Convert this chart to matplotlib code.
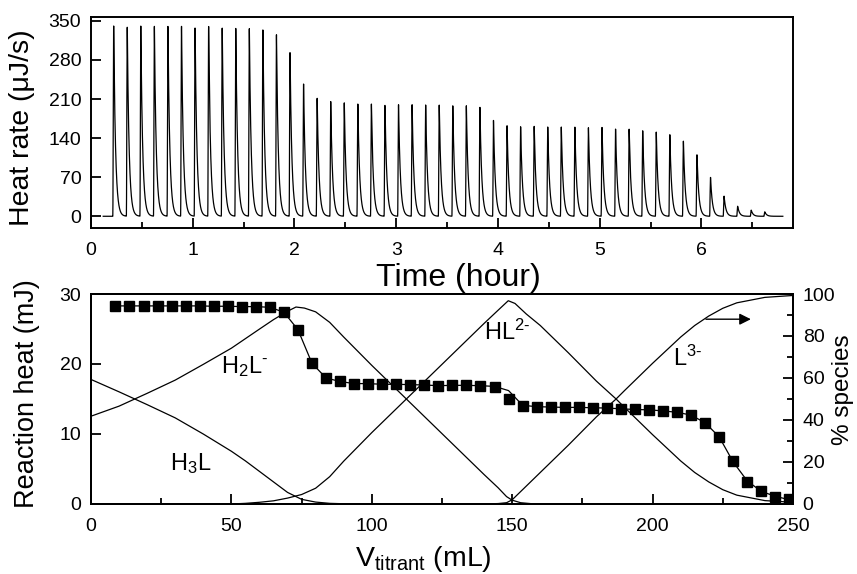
import matplotlib.pyplot as plt
import numpy as np
from matplotlib.ticker import MultipleLocator

plt.rcParams['font.family'] = ['Liberation Sans', 'DejaVu Sans']
plt.rcParams['mathtext.fontset'] = 'custom'
plt.rcParams['mathtext.rm'] = 'Liberation Sans'
plt.rcParams['mathtext.it'] = 'Liberation Sans:italic'
plt.rcParams['mathtext.default'] = 'regular'

# --- thermogram (top): one peak per injection, heights in uJ/s
t_start = 0.12        # h, start of record
t_end = 6.8           # h, end of record
t_first = 0.214       # h, first injection
t_step = 8 / 60       # h between injections
peak_heights = [341, 341, 341, 341, 341, 340, 339, 340, 339, 337, 336, 335,
                325, 295, 237, 212, 206, 203, 202, 201, 200, 200, 200, 200,
                199, 199, 198, 196, 172, 162, 161, 161, 161, 160, 160, 159,
                159, 157, 156, 154, 151, 146, 135, 110, 70, 36, 18, 11, 8]

# --- integrated heats (bottom, left axis)
v_inj = [8.7, 13.7, 18.7, 23.7, 28.7, 33.7, 38.7, 43.7, 48.7, 53.7, 58.7, 63.7,
         68.7, 73.7, 78.7, 83.7, 88.7, 93.7, 98.7, 103.7, 108.7, 113.7, 118.7,
         123.7, 128.7, 133.7, 138.7, 143.7, 148.7, 153.7, 158.7, 163.7, 168.7,
         173.7, 178.7, 183.7, 188.7, 193.7, 198.7, 203.7, 208.7, 213.7, 218.7,
         223.7, 228.7, 233.7, 238.7, 243.7, 248.7]
q_exp = [28.3, 28.3, 28.3, 28.3, 28.3, 28.3, 28.3, 28.25, 28.25, 28.2, 28.2, 28.1,
         27.4, 24.9, 20.1, 18.0, 17.5, 17.2, 17.2, 17.1, 17.1, 17.05, 17.0,
         16.9, 16.95, 16.95, 16.9, 16.7, 15.0, 14.0, 13.9, 13.85, 13.8,
         13.8, 13.75, 13.7, 13.6, 13.5, 13.45, 13.3, 13.1, 12.7, 11.6,
         9.5, 6.1, 3.2, 1.8, 1.0, 0.76]
q_fit = [28.3, 28.3, 28.3, 28.3, 28.3, 28.3, 28.3, 28.25, 28.25, 28.2, 28.2, 28.1,
         27.4, 24.9, 20.1, 18.0, 17.5, 17.2, 17.2, 17.1, 17.1, 17.05, 17.0,
         16.9, 16.95, 16.95, 16.9, 16.8, 16.2, 14.1, 13.9, 13.85, 13.8,
         13.8, 13.75, 13.7, 13.6, 13.5, 13.45, 13.3, 13.1, 12.7, 11.6,
         9.6, 6.0, 3.3, 1.8, 1.1, 0.6]

# --- species distribution (bottom, right axis, %)
v_h3l = [0, 10, 20, 30, 40, 50, 55, 60, 65, 70, 75, 80, 85, 90, 95]
p_h3l = [59.3, 53.4, 47.3, 41.0, 33.3, 25.1, 20.5, 15.5, 10.5, 5.5, 2.2, 0.9, 0.3, 0.1, 0]
v_h2l = [0, 10, 20, 30, 40, 50, 60, 65, 70, 73, 76, 80, 85, 90, 100, 110, 120,
         130, 140, 145, 148, 150, 153, 158]
p_h2l = [41.8, 46.6, 52.7, 59.0, 66.5, 74.2, 83.3, 87.8, 91.8, 93.8, 93.3, 91.5,
         86.5, 79.5, 66.0, 53.0, 40.0, 27.0, 14.0, 7.7, 3.5, 1.8, 0.6, 0]
v_hl2 = [50, 55, 60, 65, 70, 75, 80, 85, 90, 100, 110, 120, 130, 140, 145, 148.6,
         151, 155, 160, 170, 180, 187, 190, 200, 210, 215, 220, 225, 230, 240, 250]
p_hl2 = [0, 0.3, 0.8, 1.5, 2.8, 4.5, 7.5, 13.0, 20.4, 34.0, 47.0, 60.0, 73.0, 86.0,
         92.3, 96.8, 95.5, 90.5, 85.0, 72.0, 58.5, 50.0, 46.0, 33.0, 20.5, 15.0,
         10.5, 6.8, 4.2, 1.6, 0.8]
v_l3 = [140, 145, 148, 150, 155, 160, 170, 180, 187, 190, 200, 210, 215, 220,
        225, 230, 240, 250]
p_l3 = [0, 0.2, 0.6, 2.0, 8.5, 15.0, 28.0, 41.5, 50.0, 54.0, 67.0, 79.5, 85.0,
        89.5, 93.2, 95.8, 98.4, 99.3]

species_labels = [r'H$_2$L$^{\text{-}}$', r'H$_3$L', r'HL$^{\text{2-}}$', r'L$^{\text{3-}}$']
label_v = [54.7, 35.6, 148.3, 212.4]
label_q = [18.7, 4.9, 23.5, 19.7]


def thermogram(t):
    y = np.zeros_like(t)
    rise = 0.009
    tau = 0.018
    for i, h in enumerate(peak_heights):
        t0 = t_first + i * t_step
        up = (t >= t0) & (t < t0 + rise)
        y[up] += h * np.sin(0.5 * np.pi * (t[up] - t0) / rise) ** 2
        down = t >= t0 + rise
        y[down] += h * np.exp(-(t[down] - t0 - rise) / tau)
    return y


def style_axis(ax):
    for s in ax.spines.values():
        s.set_linewidth(1.4)
    ax.tick_params(which='both', direction='in', width=1.3, labelsize=14,
                   top=False, right=False)
    ax.tick_params(which='major', length=7)
    ax.tick_params(which='minor', length=4)
    ax.tick_params(axis='x', pad=10)
    ax.tick_params(axis='y', pad=7)


fig = plt.figure(figsize=(8.57, 5.74), dpi=100)
ax1 = fig.add_axes([0.1062, 0.6028, 0.8191, 0.3676])
ax2 = fig.add_axes([0.1062, 0.1220, 0.8191, 0.3658])
ax3 = ax2.twinx()

# top panel
t = np.linspace(t_start, t_end, 10000)
ax1.plot(t, thermogram(t), color='black', linewidth=0.9)
ax1.set_xlim(0, 6.9)
ax1.set_ylim(-21, 357)
ax1.set_yticks([0, 70, 140, 210, 280, 350])
ax1.xaxis.set_major_locator(MultipleLocator(1))
ax1.xaxis.set_minor_locator(MultipleLocator(0.5))
style_axis(ax1)
ax1.set_xlabel('Time (hour)', fontsize=23)
ax1.xaxis.set_label_coords(0.523, -0.166)
ax1.set_ylabel(u'Heat rate (\u03bcJ/s)', fontsize=20.5)
ax1.yaxis.set_label_coords(-0.080, 0.474)

# bottom panel
ax2.plot(v_inj, q_fit, color='black', linewidth=0.9, zorder=3)
ax2.plot(v_inj, q_exp, 's', color='black', markersize=7.2, zorder=4)
ax2.set_xlim(0, 250)
ax2.set_ylim(0, 30)
ax2.xaxis.set_major_locator(MultipleLocator(50))
ax2.xaxis.set_minor_locator(MultipleLocator(25))
ax2.set_yticks([0, 10, 20, 30])
style_axis(ax2)
ax2.set_xlabel(r'V$_{\mathrm{titrant}}$ (mL)', fontsize=20.5)
ax2.xaxis.set_label_coords(0.473, -0.19)
ax2.set_ylabel('Reaction heat (mJ)', fontsize=19.5)
ax2.yaxis.set_label_coords(-0.0726, 0.524)

for v, p in [(v_h3l, p_h3l), (v_h2l, p_h2l), (v_hl2, p_hl2), (v_l3, p_l3)]:
    ax3.plot(v, p, color='black', linewidth=0.9)
ax3.set_ylim(0, 100)
ax3.yaxis.set_major_locator(MultipleLocator(20))
ax3.yaxis.set_minor_locator(MultipleLocator(10))
for s in ax3.spines.values():
    s.set_linewidth(1.4)
ax3.tick_params(which='both', direction='in', width=1.3, labelsize=14,
                left=False, right=True, pad=7)
ax3.tick_params(which='major', length=7)
ax3.tick_params(which='minor', length=4)
ax3.set_ylabel('% species', fontsize=17.5)
ax3.yaxis.set_label_coords(1.056, 0.543)
ax3.annotate('', xy=(235, 88), xytext=(219, 88),
             arrowprops=dict(arrowstyle='-|>', color='black', lw=1.0,
                             mutation_scale=17, shrinkA=0, shrinkB=0))

for lab, v, q in zip(species_labels, label_v, label_q):
    ax2.text(v, q, lab, fontsize=17, ha='center', va='baseline', zorder=5)

fig.savefig('out.png', dpi=100)
